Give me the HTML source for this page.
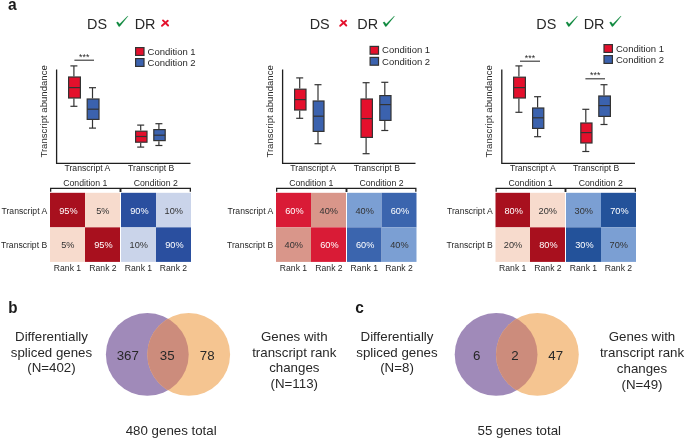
<!DOCTYPE html>
<html><head><meta charset="utf-8"><style>
html,body{margin:0;padding:0;background:#fff;width:685px;height:439px;overflow:hidden}
svg{display:block;font-family:"Liberation Sans", sans-serif;will-change:transform}
</style></head><body>
<svg width="685" height="439" viewBox="0 0 685 439">
<rect width="685" height="439" fill="#fff"/>
<text x="8.0" y="9.7" font-size="15.6" text-anchor="start" fill="#1a1a1a" font-weight="bold" >a</text>
<text x="87.10000000000001" y="29.3" font-size="14.4" text-anchor="start" fill="#282828" font-weight="normal" >DS</text>
<text x="134.7" y="29.3" font-size="14.4" text-anchor="start" fill="#282828" font-weight="normal" >DR</text>
<polygon points="116.30,22.60 117.80,21.80 119.60,24.00 127.60,15.90 128.00,16.30 120.20,26.00 119.30,26.80 118.70,26.50" fill="#10893F" stroke="#10893F" stroke-width="0.15" stroke-linejoin="round"/>
<path d="M163.0,20.400000000000002 L168.10000000000002,25.5 M167.8,20.8 L162.0,25.8" stroke="#E4102C" stroke-width="1.9" fill="none" stroke-linecap="round"/>
<rect x="135.6" y="47.6" width="8.4" height="7.8" fill="#E4102C" stroke="#333333" stroke-width="1.2"/>
<rect x="135.6" y="58.6" width="8.4" height="7.8" fill="#3B62AE" stroke="#333333" stroke-width="1.2"/>
<text transform="translate(147.60,54.65) scale(0.98,1)" x="0" y="0" font-size="9.7" text-anchor="start" fill="#282828" font-weight="normal" >Condition 1</text>
<text transform="translate(147.60,66.05) scale(0.98,1)" x="0" y="0" font-size="9.7" text-anchor="start" fill="#282828" font-weight="normal" >Condition 2</text>
<path d="M56.6,69.4 V163.4 H190.5" stroke="#1f1f1f" stroke-width="1.3" fill="none"/>
<text x="0" y="0" font-size="9.6" text-anchor="middle" fill="#282828" font-weight="normal" transform="translate(47.2,111.4) rotate(-90)">Transcript abundance</text>
<text transform="translate(87.40,171.40) scale(0.95,1)" x="0" y="0" font-size="9.1" text-anchor="middle" fill="#282828" font-weight="normal" >Transcript A</text>
<text transform="translate(151.20,171.40) scale(0.95,1)" x="0" y="0" font-size="9.1" text-anchor="middle" fill="#282828" font-weight="normal" >Transcript B</text>
<line x1="74.4" y1="60.2" x2="94" y2="60.2" stroke="#333" stroke-width="1.1"/>
<text x="84.2" y="59.6" font-size="8.8" text-anchor="middle" fill="#282828" font-weight="normal" >***</text>
<line x1="73.9" y1="65.89999999999999" x2="73.9" y2="76.4" stroke="#333333" stroke-width="1.2"/>
<line x1="73.9" y1="98.6" x2="73.9" y2="106.30000000000001" stroke="#333333" stroke-width="1.2"/>
<line x1="70.4" y1="65.89999999999999" x2="77.4" y2="65.89999999999999" stroke="#333333" stroke-width="1.2"/>
<line x1="70.4" y1="106.30000000000001" x2="77.4" y2="106.30000000000001" stroke="#333333" stroke-width="1.2"/>
<rect x="68.6" y="77.0" width="11.8" height="20.99999999999999" fill="#E4102C" stroke="#333333" stroke-width="1.2"/>
<line x1="68.6" y1="87.60000000000001" x2="80.4" y2="87.60000000000001" stroke="#333333" stroke-width="1.2"/>
<line x1="92.5" y1="87.7" x2="92.5" y2="98.4" stroke="#333333" stroke-width="1.2"/>
<line x1="92.5" y1="120.0" x2="92.5" y2="128.1" stroke="#333333" stroke-width="1.2"/>
<line x1="89.0" y1="87.7" x2="96.0" y2="87.7" stroke="#333333" stroke-width="1.2"/>
<line x1="89.0" y1="128.1" x2="96.0" y2="128.1" stroke="#333333" stroke-width="1.2"/>
<rect x="87.19999999999999" y="99.0" width="11.8" height="20.399999999999995" fill="#3B62AE" stroke="#333333" stroke-width="1.2"/>
<line x1="87.19999999999999" y1="109.2" x2="99.0" y2="109.2" stroke="#333333" stroke-width="1.2"/>
<line x1="140.70000000000002" y1="125.1" x2="140.70000000000002" y2="130.6" stroke="#333333" stroke-width="1.2"/>
<line x1="140.70000000000002" y1="142.79999999999998" x2="140.70000000000002" y2="147.1" stroke="#333333" stroke-width="1.2"/>
<line x1="137.20000000000002" y1="125.1" x2="144.20000000000002" y2="125.1" stroke="#333333" stroke-width="1.2"/>
<line x1="137.20000000000002" y1="147.1" x2="144.20000000000002" y2="147.1" stroke="#333333" stroke-width="1.2"/>
<rect x="135.6" y="131.2" width="11.399999999999995" height="10.99999999999999" fill="#E4102C" stroke="#333333" stroke-width="1.2"/>
<line x1="135.6" y1="136.5" x2="147.0" y2="136.5" stroke="#333333" stroke-width="1.2"/>
<line x1="158.9" y1="123.7" x2="158.9" y2="129" stroke="#333333" stroke-width="1.2"/>
<line x1="158.9" y1="141.2" x2="158.9" y2="145.5" stroke="#333333" stroke-width="1.2"/>
<line x1="155.4" y1="123.7" x2="162.4" y2="123.7" stroke="#333333" stroke-width="1.2"/>
<line x1="155.4" y1="145.5" x2="162.4" y2="145.5" stroke="#333333" stroke-width="1.2"/>
<rect x="153.79999999999998" y="129.6" width="11.400000000000023" height="10.99999999999999" fill="#3B62AE" stroke="#333333" stroke-width="1.2"/>
<line x1="153.79999999999998" y1="135.2" x2="165.20000000000002" y2="135.2" stroke="#333333" stroke-width="1.2"/>
<rect x="50" y="192.8" width="35" height="34.54999999999998" fill="#A8101E"/>
<text transform="translate(68.40,213.50) scale(0.93,1)" x="0" y="0" font-size="9.9" text-anchor="middle" fill="#ffffff" font-weight="normal" >95%</text>
<rect x="85" y="192.8" width="35" height="34.54999999999998" fill="#F7DBCD"/>
<text transform="translate(102.80,213.50) scale(0.93,1)" x="0" y="0" font-size="9.9" text-anchor="middle" fill="#333333" font-weight="normal" >5%</text>
<rect x="121" y="192.8" width="35" height="34.54999999999998" fill="#2A4F9F"/>
<text transform="translate(139.40,213.50) scale(0.93,1)" x="0" y="0" font-size="9.9" text-anchor="middle" fill="#ffffff" font-weight="normal" >90%</text>
<rect x="156" y="192.8" width="35" height="34.54999999999998" fill="#CAD4EA"/>
<text transform="translate(173.80,213.50) scale(0.93,1)" x="0" y="0" font-size="9.9" text-anchor="middle" fill="#333333" font-weight="normal" >10%</text>
<rect x="50" y="227.35" width="35" height="34.54999999999998" fill="#F7DBCD"/>
<text transform="translate(67.80,248.05) scale(0.93,1)" x="0" y="0" font-size="9.9" text-anchor="middle" fill="#333333" font-weight="normal" >5%</text>
<rect x="85" y="227.35" width="35" height="34.54999999999998" fill="#A8101E"/>
<text transform="translate(103.40,248.05) scale(0.93,1)" x="0" y="0" font-size="9.9" text-anchor="middle" fill="#ffffff" font-weight="normal" >95%</text>
<rect x="121" y="227.35" width="35" height="34.54999999999998" fill="#CAD4EA"/>
<text transform="translate(138.80,248.05) scale(0.93,1)" x="0" y="0" font-size="9.9" text-anchor="middle" fill="#333333" font-weight="normal" >10%</text>
<rect x="156" y="227.35" width="35" height="34.54999999999998" fill="#2A4F9F"/>
<text transform="translate(174.40,248.05) scale(0.93,1)" x="0" y="0" font-size="9.9" text-anchor="middle" fill="#ffffff" font-weight="normal" >90%</text>
<path d="M50.65,191.7 V188.45 H190.35 V191.7" stroke="#222" stroke-width="1.3" fill="none"/><path d="M120.5,188.45 V192.0" stroke="#222" stroke-width="1.9" fill="none"/>
<text transform="translate(85.25,186.30) scale(0.95,1)" x="0" y="0" font-size="9.2" text-anchor="middle" fill="#282828" font-weight="normal" >Condition 1</text>
<text transform="translate(155.75,186.30) scale(0.95,1)" x="0" y="0" font-size="9.2" text-anchor="middle" fill="#282828" font-weight="normal" >Condition 2</text>
<text transform="translate(47.20,213.50) scale(0.89,1)" x="0" y="0" font-size="9.7" text-anchor="end" fill="#282828" font-weight="normal" >Transcript A</text>
<text transform="translate(47.20,248.00) scale(0.89,1)" x="0" y="0" font-size="9.7" text-anchor="end" fill="#282828" font-weight="normal" >Transcript B</text>
<text transform="translate(67.50,271.30) scale(0.96,1)" x="0" y="0" font-size="9.0" text-anchor="middle" fill="#282828" font-weight="normal" >Rank 1</text>
<text transform="translate(103.00,271.30) scale(0.96,1)" x="0" y="0" font-size="9.0" text-anchor="middle" fill="#282828" font-weight="normal" >Rank 2</text>
<text transform="translate(138.50,271.30) scale(0.96,1)" x="0" y="0" font-size="9.0" text-anchor="middle" fill="#282828" font-weight="normal" >Rank 1</text>
<text transform="translate(173.50,271.30) scale(0.96,1)" x="0" y="0" font-size="9.0" text-anchor="middle" fill="#282828" font-weight="normal" >Rank 2</text>
<text x="309.7" y="29.3" font-size="14.4" text-anchor="start" fill="#282828" font-weight="normal" >DS</text>
<text x="357.3" y="29.3" font-size="14.4" text-anchor="start" fill="#282828" font-weight="normal" >DR</text>
<path d="M341.2,20.400000000000002 L346.3,25.5 M346.0,20.8 L340.2,25.8" stroke="#E4102C" stroke-width="1.9" fill="none" stroke-linecap="round"/>
<polygon points="382.90,22.60 384.40,21.80 386.20,24.00 394.20,15.90 394.60,16.30 386.80,26.00 385.90,26.80 385.30,26.50" fill="#10893F" stroke="#10893F" stroke-width="0.15" stroke-linejoin="round"/>
<rect x="370.1" y="46.4" width="8.4" height="7.8" fill="#E4102C" stroke="#333333" stroke-width="1.2"/>
<rect x="370.1" y="57.4" width="8.4" height="7.8" fill="#3B62AE" stroke="#333333" stroke-width="1.2"/>
<text transform="translate(382.10,53.45) scale(0.98,1)" x="0" y="0" font-size="9.7" text-anchor="start" fill="#282828" font-weight="normal" >Condition 1</text>
<text transform="translate(382.10,64.85) scale(0.98,1)" x="0" y="0" font-size="9.7" text-anchor="start" fill="#282828" font-weight="normal" >Condition 2</text>
<path d="M282.6,69.4 V163.4 H415.5" stroke="#1f1f1f" stroke-width="1.3" fill="none"/>
<text x="0" y="0" font-size="9.6" text-anchor="middle" fill="#282828" font-weight="normal" transform="translate(273.2,111.4) rotate(-90)">Transcript abundance</text>
<text transform="translate(313.20,171.40) scale(0.95,1)" x="0" y="0" font-size="9.1" text-anchor="middle" fill="#282828" font-weight="normal" >Transcript A</text>
<text transform="translate(376.80,171.40) scale(0.95,1)" x="0" y="0" font-size="9.1" text-anchor="middle" fill="#282828" font-weight="normal" >Transcript B</text>
<line x1="299.7" y1="77.89999999999999" x2="299.7" y2="88.6" stroke="#333333" stroke-width="1.2"/>
<line x1="299.7" y1="110.6" x2="299.7" y2="118.30000000000001" stroke="#333333" stroke-width="1.2"/>
<line x1="296.2" y1="77.89999999999999" x2="303.2" y2="77.89999999999999" stroke="#333333" stroke-width="1.2"/>
<line x1="296.2" y1="118.30000000000001" x2="303.2" y2="118.30000000000001" stroke="#333333" stroke-width="1.2"/>
<rect x="294.6" y="89.19999999999999" width="11.400000000000023" height="20.8" fill="#E4102C" stroke="#333333" stroke-width="1.2"/>
<line x1="294.6" y1="99.60000000000001" x2="306.0" y2="99.60000000000001" stroke="#333333" stroke-width="1.2"/>
<line x1="318.0" y1="84.7" x2="318.0" y2="100.4" stroke="#333333" stroke-width="1.2"/>
<line x1="318.0" y1="132.0" x2="318.0" y2="143.7" stroke="#333333" stroke-width="1.2"/>
<line x1="314.5" y1="84.7" x2="321.5" y2="84.7" stroke="#333333" stroke-width="1.2"/>
<line x1="314.5" y1="143.7" x2="321.5" y2="143.7" stroke="#333333" stroke-width="1.2"/>
<rect x="313.20000000000005" y="101.0" width="10.8" height="30.399999999999995" fill="#3B62AE" stroke="#333333" stroke-width="1.2"/>
<line x1="313.20000000000005" y1="116.2" x2="324.0" y2="116.2" stroke="#333333" stroke-width="1.2"/>
<line x1="366.09999999999997" y1="82.7" x2="366.09999999999997" y2="98.4" stroke="#333333" stroke-width="1.2"/>
<line x1="366.09999999999997" y1="138.0" x2="366.09999999999997" y2="153.7" stroke="#333333" stroke-width="1.2"/>
<line x1="362.59999999999997" y1="82.7" x2="369.59999999999997" y2="82.7" stroke="#333333" stroke-width="1.2"/>
<line x1="362.59999999999997" y1="153.7" x2="369.59999999999997" y2="153.7" stroke="#333333" stroke-width="1.2"/>
<rect x="361.0" y="99.0" width="11.400000000000023" height="38.39999999999999" fill="#E4102C" stroke="#333333" stroke-width="1.2"/>
<line x1="361.0" y1="118.60000000000001" x2="372.4" y2="118.60000000000001" stroke="#333333" stroke-width="1.2"/>
<line x1="384.79999999999995" y1="82.3" x2="384.79999999999995" y2="95" stroke="#333333" stroke-width="1.2"/>
<line x1="384.79999999999995" y1="121.0" x2="384.79999999999995" y2="130.5" stroke="#333333" stroke-width="1.2"/>
<line x1="381.29999999999995" y1="82.3" x2="388.29999999999995" y2="82.3" stroke="#333333" stroke-width="1.2"/>
<line x1="381.29999999999995" y1="130.5" x2="388.29999999999995" y2="130.5" stroke="#333333" stroke-width="1.2"/>
<rect x="379.8" y="95.6" width="11.200000000000035" height="24.8" fill="#3B62AE" stroke="#333333" stroke-width="1.2"/>
<line x1="379.8" y1="104.60000000000001" x2="391.0" y2="104.60000000000001" stroke="#333333" stroke-width="1.2"/>
<rect x="276" y="192.8" width="35" height="34.54999999999998" fill="#D91B36"/>
<text transform="translate(294.40,213.50) scale(0.93,1)" x="0" y="0" font-size="9.9" text-anchor="middle" fill="#ffffff" font-weight="normal" >60%</text>
<rect x="311" y="192.8" width="35" height="34.54999999999998" fill="#D9968A"/>
<text transform="translate(328.80,213.50) scale(0.93,1)" x="0" y="0" font-size="9.9" text-anchor="middle" fill="#333333" font-weight="normal" >40%</text>
<rect x="347" y="192.8" width="34.60000000000002" height="34.54999999999998" fill="#7B9FD3"/>
<text transform="translate(364.60,213.50) scale(0.93,1)" x="0" y="0" font-size="9.9" text-anchor="middle" fill="#333333" font-weight="normal" >40%</text>
<rect x="381.6" y="192.8" width="34.89999999999998" height="34.54999999999998" fill="#3B65AE"/>
<text transform="translate(399.95,213.50) scale(0.93,1)" x="0" y="0" font-size="9.9" text-anchor="middle" fill="#ffffff" font-weight="normal" >60%</text>
<rect x="276" y="227.35" width="35" height="34.54999999999998" fill="#D9968A"/>
<text transform="translate(293.80,248.05) scale(0.93,1)" x="0" y="0" font-size="9.9" text-anchor="middle" fill="#333333" font-weight="normal" >40%</text>
<rect x="311" y="227.35" width="35" height="34.54999999999998" fill="#D91B36"/>
<text transform="translate(329.40,248.05) scale(0.93,1)" x="0" y="0" font-size="9.9" text-anchor="middle" fill="#ffffff" font-weight="normal" >60%</text>
<rect x="347" y="227.35" width="34.60000000000002" height="34.54999999999998" fill="#3B65AE"/>
<text transform="translate(365.20,248.05) scale(0.93,1)" x="0" y="0" font-size="9.9" text-anchor="middle" fill="#ffffff" font-weight="normal" >60%</text>
<rect x="381.6" y="227.35" width="34.89999999999998" height="34.54999999999998" fill="#7B9FD3"/>
<text transform="translate(399.35,248.05) scale(0.93,1)" x="0" y="0" font-size="9.9" text-anchor="middle" fill="#333333" font-weight="normal" >40%</text>
<path d="M276.65,191.7 V188.45 H415.85 V191.7" stroke="#222" stroke-width="1.3" fill="none"/><path d="M346.5,188.45 V192.0" stroke="#222" stroke-width="1.9" fill="none"/>
<text transform="translate(311.25,186.30) scale(0.95,1)" x="0" y="0" font-size="9.2" text-anchor="middle" fill="#282828" font-weight="normal" >Condition 1</text>
<text transform="translate(381.50,186.30) scale(0.95,1)" x="0" y="0" font-size="9.2" text-anchor="middle" fill="#282828" font-weight="normal" >Condition 2</text>
<text transform="translate(273.20,213.50) scale(0.89,1)" x="0" y="0" font-size="9.7" text-anchor="end" fill="#282828" font-weight="normal" >Transcript A</text>
<text transform="translate(273.20,248.00) scale(0.89,1)" x="0" y="0" font-size="9.7" text-anchor="end" fill="#282828" font-weight="normal" >Transcript B</text>
<text transform="translate(293.50,271.30) scale(0.96,1)" x="0" y="0" font-size="9.0" text-anchor="middle" fill="#282828" font-weight="normal" >Rank 1</text>
<text transform="translate(329.00,271.30) scale(0.96,1)" x="0" y="0" font-size="9.0" text-anchor="middle" fill="#282828" font-weight="normal" >Rank 2</text>
<text transform="translate(364.30,271.30) scale(0.96,1)" x="0" y="0" font-size="9.0" text-anchor="middle" fill="#282828" font-weight="normal" >Rank 1</text>
<text transform="translate(399.05,271.30) scale(0.96,1)" x="0" y="0" font-size="9.0" text-anchor="middle" fill="#282828" font-weight="normal" >Rank 2</text>
<text x="536.3000000000001" y="29.3" font-size="14.4" text-anchor="start" fill="#282828" font-weight="normal" >DS</text>
<text x="583.7" y="29.3" font-size="14.4" text-anchor="start" fill="#282828" font-weight="normal" >DR</text>
<polygon points="565.90,22.60 567.40,21.80 569.20,24.00 577.20,15.90 577.60,16.30 569.80,26.00 568.90,26.80 568.30,26.50" fill="#10893F" stroke="#10893F" stroke-width="0.15" stroke-linejoin="round"/>
<polygon points="609.50,22.60 611.00,21.80 612.80,24.00 620.80,15.90 621.20,16.30 613.40,26.00 612.50,26.80 611.90,26.50" fill="#10893F" stroke="#10893F" stroke-width="0.15" stroke-linejoin="round"/>
<rect x="604.0" y="44.6" width="8.4" height="7.8" fill="#E4102C" stroke="#333333" stroke-width="1.2"/>
<rect x="604.0" y="55.6" width="8.4" height="7.8" fill="#3B62AE" stroke="#333333" stroke-width="1.2"/>
<text transform="translate(616.00,51.65) scale(0.98,1)" x="0" y="0" font-size="9.7" text-anchor="start" fill="#282828" font-weight="normal" >Condition 1</text>
<text transform="translate(616.00,63.05) scale(0.98,1)" x="0" y="0" font-size="9.7" text-anchor="start" fill="#282828" font-weight="normal" >Condition 2</text>
<path d="M501.8,69.4 V163.4 H635" stroke="#1f1f1f" stroke-width="1.3" fill="none"/>
<text x="0" y="0" font-size="9.6" text-anchor="middle" fill="#282828" font-weight="normal" transform="translate(492.4,111.4) rotate(-90)">Transcript abundance</text>
<text transform="translate(532.80,171.40) scale(0.95,1)" x="0" y="0" font-size="9.1" text-anchor="middle" fill="#282828" font-weight="normal" >Transcript A</text>
<text transform="translate(596.20,171.40) scale(0.95,1)" x="0" y="0" font-size="9.1" text-anchor="middle" fill="#282828" font-weight="normal" >Transcript B</text>
<line x1="520" y1="61.2" x2="540" y2="61.2" stroke="#333" stroke-width="1.1"/>
<text x="530.0" y="60.6" font-size="8.8" text-anchor="middle" fill="#282828" font-weight="normal" >***</text>
<line x1="585.4" y1="78.8" x2="605" y2="78.8" stroke="#333" stroke-width="1.1"/>
<text x="595.2" y="78.2" font-size="8.8" text-anchor="middle" fill="#282828" font-weight="normal" >***</text>
<line x1="518.9" y1="65.89999999999999" x2="518.9" y2="76.6" stroke="#333333" stroke-width="1.2"/>
<line x1="518.9" y1="98.6" x2="518.9" y2="112.30000000000001" stroke="#333333" stroke-width="1.2"/>
<line x1="515.4" y1="65.89999999999999" x2="522.4" y2="65.89999999999999" stroke="#333333" stroke-width="1.2"/>
<line x1="515.4" y1="112.30000000000001" x2="522.4" y2="112.30000000000001" stroke="#333333" stroke-width="1.2"/>
<rect x="513.6" y="77.19999999999999" width="11.8" height="20.8" fill="#E4102C" stroke="#333333" stroke-width="1.2"/>
<line x1="513.6" y1="87.60000000000001" x2="525.4" y2="87.60000000000001" stroke="#333333" stroke-width="1.2"/>
<line x1="537.6" y1="96.7" x2="537.6" y2="107.4" stroke="#333333" stroke-width="1.2"/>
<line x1="537.6" y1="129.0" x2="537.6" y2="136.7" stroke="#333333" stroke-width="1.2"/>
<line x1="534.1" y1="96.7" x2="541.1" y2="96.7" stroke="#333333" stroke-width="1.2"/>
<line x1="534.1" y1="136.7" x2="541.1" y2="136.7" stroke="#333333" stroke-width="1.2"/>
<rect x="532.6" y="108.0" width="11.199999999999978" height="20.399999999999995" fill="#3B62AE" stroke="#333333" stroke-width="1.2"/>
<line x1="532.6" y1="117.8" x2="543.8" y2="117.8" stroke="#333333" stroke-width="1.2"/>
<line x1="585.8000000000001" y1="109.3" x2="585.8000000000001" y2="122.4" stroke="#333333" stroke-width="1.2"/>
<line x1="585.8000000000001" y1="143.6" x2="585.8000000000001" y2="151.5" stroke="#333333" stroke-width="1.2"/>
<line x1="582.3000000000001" y1="109.3" x2="589.3000000000001" y2="109.3" stroke="#333333" stroke-width="1.2"/>
<line x1="582.3000000000001" y1="151.5" x2="589.3000000000001" y2="151.5" stroke="#333333" stroke-width="1.2"/>
<rect x="580.8000000000001" y="123.0" width="11.199999999999978" height="19.99999999999999" fill="#E4102C" stroke="#333333" stroke-width="1.2"/>
<line x1="580.8000000000001" y1="132.6" x2="592.0" y2="132.6" stroke="#333333" stroke-width="1.2"/>
<line x1="604.0" y1="84.7" x2="604.0" y2="95.4" stroke="#333333" stroke-width="1.2"/>
<line x1="604.0" y1="117.0" x2="604.0" y2="124.50000000000001" stroke="#333333" stroke-width="1.2"/>
<line x1="600.5" y1="84.7" x2="607.5" y2="84.7" stroke="#333333" stroke-width="1.2"/>
<line x1="600.5" y1="124.50000000000001" x2="607.5" y2="124.50000000000001" stroke="#333333" stroke-width="1.2"/>
<rect x="598.8000000000001" y="96.0" width="11.599999999999955" height="20.399999999999995" fill="#3B62AE" stroke="#333333" stroke-width="1.2"/>
<line x1="598.8000000000001" y1="105.60000000000001" x2="610.4" y2="105.60000000000001" stroke="#333333" stroke-width="1.2"/>
<rect x="495.5" y="192.8" width="34.5" height="34.54999999999998" fill="#A8101E"/>
<text transform="translate(513.65,213.50) scale(0.93,1)" x="0" y="0" font-size="9.9" text-anchor="middle" fill="#ffffff" font-weight="normal" >80%</text>
<rect x="530" y="192.8" width="35" height="34.54999999999998" fill="#F7DBCD"/>
<text transform="translate(547.80,213.50) scale(0.93,1)" x="0" y="0" font-size="9.9" text-anchor="middle" fill="#333333" font-weight="normal" >20%</text>
<rect x="566" y="192.8" width="35" height="34.54999999999998" fill="#7B9FD3"/>
<text transform="translate(583.80,213.50) scale(0.93,1)" x="0" y="0" font-size="9.9" text-anchor="middle" fill="#333333" font-weight="normal" >30%</text>
<rect x="601" y="192.8" width="35" height="34.54999999999998" fill="#23529A"/>
<text transform="translate(619.40,213.50) scale(0.93,1)" x="0" y="0" font-size="9.9" text-anchor="middle" fill="#ffffff" font-weight="normal" >70%</text>
<rect x="495.5" y="227.35" width="34.5" height="34.54999999999998" fill="#F7DBCD"/>
<text transform="translate(513.05,248.05) scale(0.93,1)" x="0" y="0" font-size="9.9" text-anchor="middle" fill="#333333" font-weight="normal" >20%</text>
<rect x="530" y="227.35" width="35" height="34.54999999999998" fill="#A8101E"/>
<text transform="translate(548.40,248.05) scale(0.93,1)" x="0" y="0" font-size="9.9" text-anchor="middle" fill="#ffffff" font-weight="normal" >80%</text>
<rect x="566" y="227.35" width="35" height="34.54999999999998" fill="#23529A"/>
<text transform="translate(584.40,248.05) scale(0.93,1)" x="0" y="0" font-size="9.9" text-anchor="middle" fill="#ffffff" font-weight="normal" >30%</text>
<rect x="601" y="227.35" width="35" height="34.54999999999998" fill="#7B9FD3"/>
<text transform="translate(618.80,248.05) scale(0.93,1)" x="0" y="0" font-size="9.9" text-anchor="middle" fill="#333333" font-weight="normal" >70%</text>
<path d="M496.15,191.7 V188.45 H635.35 V191.7" stroke="#222" stroke-width="1.3" fill="none"/><path d="M565.5,188.45 V192.0" stroke="#222" stroke-width="1.9" fill="none"/>
<text transform="translate(530.50,186.30) scale(0.95,1)" x="0" y="0" font-size="9.2" text-anchor="middle" fill="#282828" font-weight="normal" >Condition 1</text>
<text transform="translate(600.75,186.30) scale(0.95,1)" x="0" y="0" font-size="9.2" text-anchor="middle" fill="#282828" font-weight="normal" >Condition 2</text>
<text transform="translate(492.70,213.50) scale(0.89,1)" x="0" y="0" font-size="9.7" text-anchor="end" fill="#282828" font-weight="normal" >Transcript A</text>
<text transform="translate(492.70,248.00) scale(0.89,1)" x="0" y="0" font-size="9.7" text-anchor="end" fill="#282828" font-weight="normal" >Transcript B</text>
<text transform="translate(512.75,271.30) scale(0.96,1)" x="0" y="0" font-size="9.0" text-anchor="middle" fill="#282828" font-weight="normal" >Rank 1</text>
<text transform="translate(548.00,271.30) scale(0.96,1)" x="0" y="0" font-size="9.0" text-anchor="middle" fill="#282828" font-weight="normal" >Rank 2</text>
<text transform="translate(583.50,271.30) scale(0.96,1)" x="0" y="0" font-size="9.0" text-anchor="middle" fill="#282828" font-weight="normal" >Rank 1</text>
<text transform="translate(618.50,271.30) scale(0.96,1)" x="0" y="0" font-size="9.0" text-anchor="middle" fill="#282828" font-weight="normal" >Rank 2</text>
<text transform="translate(8.30,313.00) scale(0.95,1)" x="0" y="0" font-size="16.0" text-anchor="start" fill="#1a1a1a" font-weight="bold" >b</text>
<text transform="translate(355.20,313.00) scale(0.97,1)" x="0" y="0" font-size="16.0" text-anchor="start" fill="#1a1a1a" font-weight="bold" >c</text>
<circle cx="147.3" cy="354.4" r="41.4" fill="#A08AB9"/>
<circle cx="188.7" cy="354.4" r="41.4" fill="#F5C591"/>
<clipPath id="cp147"><circle cx="147.3" cy="354.4" r="41.4"/></clipPath>
<circle cx="188.7" cy="354.4" r="41.4" fill="#CC8C7C" clip-path="url(#cp147)"/>
<text x="127.8" y="360.2" font-size="13.3" text-anchor="middle" fill="#282828" font-weight="normal" >367</text>
<text x="167.2" y="360.2" font-size="13.3" text-anchor="middle" fill="#282828" font-weight="normal" >35</text>
<text x="207.2" y="360.2" font-size="13.3" text-anchor="middle" fill="#282828" font-weight="normal" >78</text>
<text x="51.5" y="340.9" font-size="13.3" text-anchor="middle" fill="#282828" font-weight="normal" >Differentially</text>
<text x="51.5" y="356.59999999999997" font-size="13.3" text-anchor="middle" fill="#282828" font-weight="normal" >spliced genes</text>
<text x="51.5" y="372.29999999999995" font-size="13.3" text-anchor="middle" fill="#282828" font-weight="normal" >(N=402)</text>
<text x="294.3" y="340.9" font-size="13.3" text-anchor="middle" fill="#282828" font-weight="normal" >Genes with</text>
<text x="294.3" y="356.65" font-size="13.3" text-anchor="middle" fill="#282828" font-weight="normal" >transcript rank</text>
<text x="294.3" y="372.4" font-size="13.3" text-anchor="middle" fill="#282828" font-weight="normal" >changes</text>
<text x="294.3" y="388.15" font-size="13.3" text-anchor="middle" fill="#282828" font-weight="normal" >(N=113)</text>
<text x="171.2" y="434.8" font-size="13.3" text-anchor="middle" fill="#282828" font-weight="normal" >480 genes total</text>
<circle cx="496.1" cy="354.4" r="41.4" fill="#A08AB9"/>
<circle cx="537.4" cy="354.4" r="41.4" fill="#F5C591"/>
<clipPath id="cp496"><circle cx="496.1" cy="354.4" r="41.4"/></clipPath>
<circle cx="537.4" cy="354.4" r="41.4" fill="#CC8C7C" clip-path="url(#cp496)"/>
<text x="476.7" y="360.2" font-size="13.3" text-anchor="middle" fill="#282828" font-weight="normal" >6</text>
<text x="515" y="360.2" font-size="13.3" text-anchor="middle" fill="#282828" font-weight="normal" >2</text>
<text x="555.7" y="360.2" font-size="13.3" text-anchor="middle" fill="#282828" font-weight="normal" >47</text>
<text x="397" y="340.9" font-size="13.3" text-anchor="middle" fill="#282828" font-weight="normal" >Differentially</text>
<text x="397" y="356.59999999999997" font-size="13.3" text-anchor="middle" fill="#282828" font-weight="normal" >spliced genes</text>
<text x="397" y="372.29999999999995" font-size="13.3" text-anchor="middle" fill="#282828" font-weight="normal" >(N=8)</text>
<text x="642" y="340.9" font-size="13.3" text-anchor="middle" fill="#282828" font-weight="normal" >Genes with</text>
<text x="642" y="356.84999999999997" font-size="13.3" text-anchor="middle" fill="#282828" font-weight="normal" >transcript rank</text>
<text x="642" y="372.79999999999995" font-size="13.3" text-anchor="middle" fill="#282828" font-weight="normal" >changes</text>
<text x="642" y="388.75" font-size="13.3" text-anchor="middle" fill="#282828" font-weight="normal" >(N=49)</text>
<text x="519.3" y="434.8" font-size="13.3" text-anchor="middle" fill="#282828" font-weight="normal" >55 genes total</text>
</svg>
</body></html>
